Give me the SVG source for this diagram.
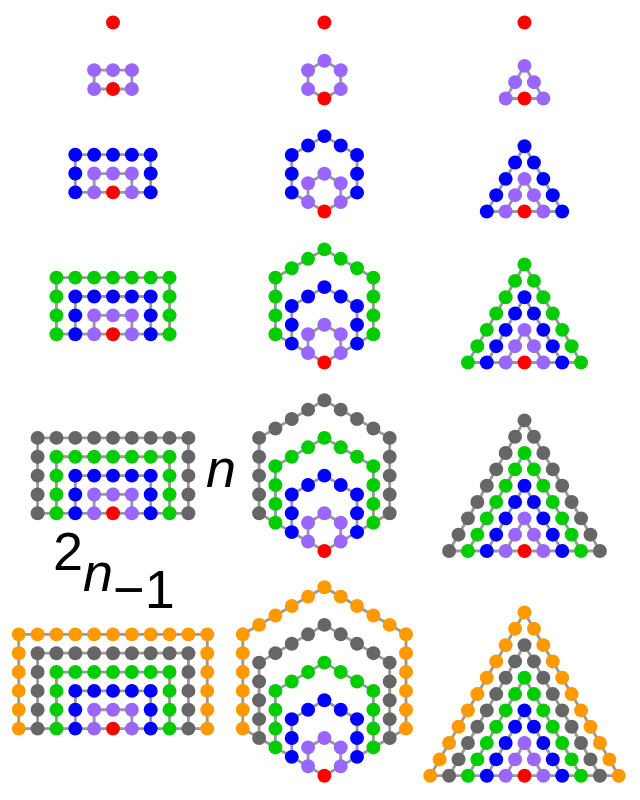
<svg xmlns="http://www.w3.org/2000/svg" width="640" height="800" viewBox="0 0 640 800">
<style>
.ln{fill:none;stroke:#999999;stroke-width:0.15;stroke-linejoin:round}
.r{fill:#ff0000}.p{fill:#9966ff}.b{fill:#0000ff}.g{fill:#00cc00}.k{fill:#666666}.o{fill:#ff9900}
.t{font-family:"Liberation Sans",Arial,sans-serif;font-size:54px;fill:#000}
</style>
<defs>
<!-- pronic layers -->
<path id="plL2" class="ln" d="M-1 0V-1H1V0M-1 0H1"/>
<path id="plL3" class="ln" d="M-2 0V-2H2V0M-2 0H-1M2 0H1"/>
<path id="plL4" class="ln" d="M-3 0V-3H3V0M-3 0H-2M3 0H2"/>
<path id="plL5" class="ln" d="M-4 0V-4H4V0M-4 0H-3M4 0H3"/>
<path id="plL6" class="ln" d="M-5 0V-5H5V0M-5 0H-4M5 0H4"/>
<g id="pd2" class="p"><circle cx="-1" cy="0" r="0.37"/><circle cx="-1" cy="-1" r="0.37"/><circle cx="0" cy="-1" r="0.37"/><circle cx="1" cy="-1" r="0.37"/><circle cx="1" cy="0" r="0.37"/></g>
<g id="pd3" class="b"><circle cx="-2" cy="0" r="0.37"/><circle cx="-2" cy="-1" r="0.37"/><circle cx="-2" cy="-2" r="0.37"/><circle cx="-1" cy="-2" r="0.37"/><circle cx="0" cy="-2" r="0.37"/><circle cx="1" cy="-2" r="0.37"/><circle cx="2" cy="-2" r="0.37"/><circle cx="2" cy="-1" r="0.37"/><circle cx="2" cy="0" r="0.37"/></g>
<g id="pd4" class="g"><circle cx="-3" cy="0" r="0.37"/><circle cx="-3" cy="-1" r="0.37"/><circle cx="-3" cy="-2" r="0.37"/><circle cx="-3" cy="-3" r="0.37"/><circle cx="-2" cy="-3" r="0.37"/><circle cx="-1" cy="-3" r="0.37"/><circle cx="0" cy="-3" r="0.37"/><circle cx="1" cy="-3" r="0.37"/><circle cx="2" cy="-3" r="0.37"/><circle cx="3" cy="-3" r="0.37"/><circle cx="3" cy="-2" r="0.37"/><circle cx="3" cy="-1" r="0.37"/><circle cx="3" cy="0" r="0.37"/></g>
<g id="pd5" class="k"><circle cx="-4" cy="0" r="0.37"/><circle cx="-4" cy="-1" r="0.37"/><circle cx="-4" cy="-2" r="0.37"/><circle cx="-4" cy="-3" r="0.37"/><circle cx="-4" cy="-4" r="0.37"/><circle cx="-3" cy="-4" r="0.37"/><circle cx="-2" cy="-4" r="0.37"/><circle cx="-1" cy="-4" r="0.37"/><circle cx="0" cy="-4" r="0.37"/><circle cx="1" cy="-4" r="0.37"/><circle cx="2" cy="-4" r="0.37"/><circle cx="3" cy="-4" r="0.37"/><circle cx="4" cy="-4" r="0.37"/><circle cx="4" cy="-3" r="0.37"/><circle cx="4" cy="-2" r="0.37"/><circle cx="4" cy="-1" r="0.37"/><circle cx="4" cy="0" r="0.37"/></g>
<g id="pd6" class="o"><circle cx="-5" cy="0" r="0.37"/><circle cx="-5" cy="-1" r="0.37"/><circle cx="-5" cy="-2" r="0.37"/><circle cx="-5" cy="-3" r="0.37"/><circle cx="-5" cy="-4" r="0.37"/><circle cx="-5" cy="-5" r="0.37"/><circle cx="-4" cy="-5" r="0.37"/><circle cx="-3" cy="-5" r="0.37"/><circle cx="-2" cy="-5" r="0.37"/><circle cx="-1" cy="-5" r="0.37"/><circle cx="0" cy="-5" r="0.37"/><circle cx="1" cy="-5" r="0.37"/><circle cx="2" cy="-5" r="0.37"/><circle cx="3" cy="-5" r="0.37"/><circle cx="4" cy="-5" r="0.37"/><circle cx="5" cy="-5" r="0.37"/><circle cx="5" cy="-4" r="0.37"/><circle cx="5" cy="-3" r="0.37"/><circle cx="5" cy="-2" r="0.37"/><circle cx="5" cy="-1" r="0.37"/><circle cx="5" cy="0" r="0.37"/></g>
<!-- hexagonal layers -->
<path id="hlL2" class="ln" d="M-0.866 -0.5V-1.5L0 -2L0.866 -1.5V-0.5M-0.866 -0.5L0 0L0.866 -0.5"/>
<path id="hlL3" class="ln" d="M-1.732 -1V-3L0 -4L1.732 -3V-1M-1.732 -1L-0.866 -0.5M1.732 -1L0.866 -0.5"/>
<path id="hlL4" class="ln" d="M-2.598 -1.5V-4.5L0 -6L2.598 -4.5V-1.5M-2.598 -1.5L-1.732 -1M2.598 -1.5L1.732 -1"/>
<path id="hlL5" class="ln" d="M-3.464 -2V-6L0 -8L3.464 -6V-2M-3.464 -2L-2.598 -1.5M3.464 -2L2.598 -1.5"/>
<path id="hlL6" class="ln" d="M-4.33 -2.5V-7.5L0 -10L4.33 -7.5V-2.5M-4.33 -2.5L-3.464 -2M4.33 -2.5L3.464 -2"/>
<g id="hd2" class="p"><circle cx="-0.866" cy="-0.5" r="0.37"/><circle cx="-0.866" cy="-1.5" r="0.37"/><circle cx="0" cy="-2" r="0.37"/><circle cx="0.866" cy="-1.5" r="0.37"/><circle cx="0.866" cy="-0.5" r="0.37"/></g>
<g id="hd3" class="b"><circle cx="-1.732" cy="-1" r="0.37"/><circle cx="-1.732" cy="-2" r="0.37"/><circle cx="-1.732" cy="-3" r="0.37"/><circle cx="-0.866" cy="-3.5" r="0.37"/><circle cx="0" cy="-4" r="0.37"/><circle cx="0.866" cy="-3.5" r="0.37"/><circle cx="1.732" cy="-3" r="0.37"/><circle cx="1.732" cy="-2" r="0.37"/><circle cx="1.732" cy="-1" r="0.37"/></g>
<g id="hd4" class="g"><circle cx="-2.598" cy="-1.5" r="0.37"/><circle cx="-2.598" cy="-2.5" r="0.37"/><circle cx="-2.598" cy="-3.5" r="0.37"/><circle cx="-2.598" cy="-4.5" r="0.37"/><circle cx="-1.732" cy="-5" r="0.37"/><circle cx="-0.866" cy="-5.5" r="0.37"/><circle cx="0" cy="-6" r="0.37"/><circle cx="0.866" cy="-5.5" r="0.37"/><circle cx="1.732" cy="-5" r="0.37"/><circle cx="2.598" cy="-4.5" r="0.37"/><circle cx="2.598" cy="-3.5" r="0.37"/><circle cx="2.598" cy="-2.5" r="0.37"/><circle cx="2.598" cy="-1.5" r="0.37"/></g>
<g id="hd5" class="k"><circle cx="-3.464" cy="-2" r="0.37"/><circle cx="-3.464" cy="-3" r="0.37"/><circle cx="-3.464" cy="-4" r="0.37"/><circle cx="-3.464" cy="-5" r="0.37"/><circle cx="-3.464" cy="-6" r="0.37"/><circle cx="-2.598" cy="-6.5" r="0.37"/><circle cx="-1.732" cy="-7" r="0.37"/><circle cx="-0.866" cy="-7.5" r="0.37"/><circle cx="0" cy="-8" r="0.37"/><circle cx="0.866" cy="-7.5" r="0.37"/><circle cx="1.732" cy="-7" r="0.37"/><circle cx="2.598" cy="-6.5" r="0.37"/><circle cx="3.464" cy="-6" r="0.37"/><circle cx="3.464" cy="-5" r="0.37"/><circle cx="3.464" cy="-4" r="0.37"/><circle cx="3.464" cy="-3" r="0.37"/><circle cx="3.464" cy="-2" r="0.37"/></g>
<g id="hd6" class="o"><circle cx="-4.33" cy="-2.5" r="0.37"/><circle cx="-4.33" cy="-3.5" r="0.37"/><circle cx="-4.33" cy="-4.5" r="0.37"/><circle cx="-4.33" cy="-5.5" r="0.37"/><circle cx="-4.33" cy="-6.5" r="0.37"/><circle cx="-4.33" cy="-7.5" r="0.37"/><circle cx="-3.464" cy="-8" r="0.37"/><circle cx="-2.598" cy="-8.5" r="0.37"/><circle cx="-1.732" cy="-9" r="0.37"/><circle cx="-0.866" cy="-9.5" r="0.37"/><circle cx="0" cy="-10" r="0.37"/><circle cx="0.866" cy="-9.5" r="0.37"/><circle cx="1.732" cy="-9" r="0.37"/><circle cx="2.598" cy="-8.5" r="0.37"/><circle cx="3.464" cy="-8" r="0.37"/><circle cx="4.33" cy="-7.5" r="0.37"/><circle cx="4.33" cy="-6.5" r="0.37"/><circle cx="4.33" cy="-5.5" r="0.37"/><circle cx="4.33" cy="-4.5" r="0.37"/><circle cx="4.33" cy="-3.5" r="0.37"/><circle cx="4.33" cy="-2.5" r="0.37"/></g>
<!-- triangular layers -->
<path id="tlL2" class="ln" d="M-1 0L0 -1.732L1 0M-1 0H1"/>
<path id="tlL3" class="ln" d="M-2 0L0 -3.464L2 0M-2 0H-1M2 0H1"/>
<path id="tlL4" class="ln" d="M-3 0L0 -5.196L3 0M-3 0H-2M3 0H2"/>
<path id="tlL5" class="ln" d="M-4 0L0 -6.928L4 0M-4 0H-3M4 0H3"/>
<path id="tlL6" class="ln" d="M-5 0L0 -8.66L5 0M-5 0H-4M5 0H4"/>
<g id="td2" class="p"><circle cx="-1" cy="0" r="0.37"/><circle cx="-0.5" cy="-0.866" r="0.37"/><circle cx="0" cy="-1.732" r="0.37"/><circle cx="0.5" cy="-0.866" r="0.37"/><circle cx="1" cy="0" r="0.37"/></g>
<g id="td3" class="b"><circle cx="-2" cy="0" r="0.37"/><circle cx="-1.5" cy="-0.866" r="0.37"/><circle cx="-1" cy="-1.732" r="0.37"/><circle cx="-0.5" cy="-2.598" r="0.37"/><circle cx="0" cy="-3.464" r="0.37"/><circle cx="0.5" cy="-2.598" r="0.37"/><circle cx="1" cy="-1.732" r="0.37"/><circle cx="1.5" cy="-0.866" r="0.37"/><circle cx="2" cy="0" r="0.37"/></g>
<g id="td4" class="g"><circle cx="-3" cy="0" r="0.37"/><circle cx="-2.5" cy="-0.866" r="0.37"/><circle cx="-2" cy="-1.732" r="0.37"/><circle cx="-1.5" cy="-2.598" r="0.37"/><circle cx="-1" cy="-3.464" r="0.37"/><circle cx="-0.5" cy="-4.33" r="0.37"/><circle cx="0" cy="-5.196" r="0.37"/><circle cx="0.5" cy="-4.33" r="0.37"/><circle cx="1" cy="-3.464" r="0.37"/><circle cx="1.5" cy="-2.598" r="0.37"/><circle cx="2" cy="-1.732" r="0.37"/><circle cx="2.5" cy="-0.866" r="0.37"/><circle cx="3" cy="0" r="0.37"/></g>
<g id="td5" class="k"><circle cx="-4" cy="0" r="0.37"/><circle cx="-3.5" cy="-0.866" r="0.37"/><circle cx="-3" cy="-1.732" r="0.37"/><circle cx="-2.5" cy="-2.598" r="0.37"/><circle cx="-2" cy="-3.464" r="0.37"/><circle cx="-1.5" cy="-4.33" r="0.37"/><circle cx="-1" cy="-5.196" r="0.37"/><circle cx="-0.5" cy="-6.062" r="0.37"/><circle cx="0" cy="-6.928" r="0.37"/><circle cx="0.5" cy="-6.062" r="0.37"/><circle cx="1" cy="-5.196" r="0.37"/><circle cx="1.5" cy="-4.33" r="0.37"/><circle cx="2" cy="-3.464" r="0.37"/><circle cx="2.5" cy="-2.598" r="0.37"/><circle cx="3" cy="-1.732" r="0.37"/><circle cx="3.5" cy="-0.866" r="0.37"/><circle cx="4" cy="0" r="0.37"/></g>
<g id="td6" class="o"><circle cx="-5" cy="0" r="0.37"/><circle cx="-4.5" cy="-0.866" r="0.37"/><circle cx="-4" cy="-1.732" r="0.37"/><circle cx="-3.5" cy="-2.598" r="0.37"/><circle cx="-3" cy="-3.464" r="0.37"/><circle cx="-2.5" cy="-4.33" r="0.37"/><circle cx="-2" cy="-5.196" r="0.37"/><circle cx="-1.5" cy="-6.062" r="0.37"/><circle cx="-1" cy="-6.928" r="0.37"/><circle cx="-0.5" cy="-7.794" r="0.37"/><circle cx="0" cy="-8.66" r="0.37"/><circle cx="0.5" cy="-7.794" r="0.37"/><circle cx="1" cy="-6.928" r="0.37"/><circle cx="1.5" cy="-6.062" r="0.37"/><circle cx="2" cy="-5.196" r="0.37"/><circle cx="2.5" cy="-4.33" r="0.37"/><circle cx="3" cy="-3.464" r="0.37"/><circle cx="3.5" cy="-2.598" r="0.37"/><circle cx="4" cy="-1.732" r="0.37"/><circle cx="4.5" cy="-0.866" r="0.37"/><circle cx="5" cy="0" r="0.37"/></g>
<circle id="red" class="r" cx="0" cy="0" r="0.37"/>
</defs>

<g id="connectors">
  <g transform="translate(113 89) scale(18.85)"><use href="#plL2"/></g>
  <g transform="translate(113 192.4) scale(18.85)"><use href="#plL3"/><use href="#plL2"/></g>
  <g transform="translate(113 334.2) scale(18.85)"><use href="#plL4"/><use href="#plL3"/><use href="#plL2"/></g>
  <g transform="translate(113 513.3) scale(18.85)"><use href="#plL5"/><use href="#plL4"/><use href="#plL3"/><use href="#plL2"/></g>
  <g transform="translate(113 728.6) scale(18.85)"><use href="#plL6"/><use href="#plL5"/><use href="#plL4"/><use href="#plL3"/><use href="#plL2"/></g>

  <g transform="translate(324.4 98.5) scale(18.85)"><use href="#hlL2"/></g>
  <g transform="translate(324.4 211.5) scale(18.85)"><use href="#hlL3"/><use href="#hlL2"/></g>
  <g transform="translate(324.4 362.5) scale(18.85)"><use href="#hlL4"/><use href="#hlL3"/><use href="#hlL2"/></g>
  <g transform="translate(324.4 551) scale(18.85)"><use href="#hlL5"/><use href="#hlL4"/><use href="#hlL3"/><use href="#hlL2"/></g>
  <g transform="translate(324.4 775.7) scale(18.85)"><use href="#hlL6"/><use href="#hlL5"/><use href="#hlL4"/><use href="#hlL3"/><use href="#hlL2"/></g>

  <g transform="translate(524.5 98.5) scale(18.85)"><use href="#tlL2"/></g>
  <g transform="translate(524.5 211.5) scale(18.85)"><use href="#tlL3"/><use href="#tlL2"/></g>
  <g transform="translate(524.5 362.5) scale(18.85)"><use href="#tlL4"/><use href="#tlL3"/><use href="#tlL2"/></g>
  <g transform="translate(524.5 551) scale(18.85)"><use href="#tlL5"/><use href="#tlL4"/><use href="#tlL3"/><use href="#tlL2"/></g>
  <g transform="translate(524.5 775.7) scale(18.85)"><use href="#tlL6"/><use href="#tlL5"/><use href="#tlL4"/><use href="#tlL3"/><use href="#tlL2"/></g>
</g>

<g id="nodes">
  <g id="pronic-1" transform="translate(113 22.5) scale(18.85)"><use href="#red"/></g>
  <g id="pronic-2" transform="translate(113 89) scale(18.85)"><use href="#pd2"/><use href="#red"/></g>
  <g id="pronic-3" transform="translate(113 192.4) scale(18.85)"><use href="#pd3"/><use href="#pd2"/><use href="#red"/></g>
  <g id="pronic-4" transform="translate(113 334.2) scale(18.85)"><use href="#pd4"/><use href="#pd3"/><use href="#pd2"/><use href="#red"/></g>
  <g id="pronic-5" transform="translate(113 513.3) scale(18.85)"><use href="#pd5"/><use href="#pd4"/><use href="#pd3"/><use href="#pd2"/><use href="#red"/></g>
  <g id="pronic-6" transform="translate(113 728.6) scale(18.85)"><use href="#pd6"/><use href="#pd5"/><use href="#pd4"/><use href="#pd3"/><use href="#pd2"/><use href="#red"/></g>

  <g id="hex-1" transform="translate(324.4 22.5) scale(18.85)"><use href="#red"/></g>
  <g id="hex-2" transform="translate(324.4 98.5) scale(18.85)"><use href="#hd2"/><use href="#red"/></g>
  <g id="hex-3" transform="translate(324.4 211.5) scale(18.85)"><use href="#hd3"/><use href="#hd2"/><use href="#red"/></g>
  <g id="hex-4" transform="translate(324.4 362.5) scale(18.85)"><use href="#hd4"/><use href="#hd3"/><use href="#hd2"/><use href="#red"/></g>
  <g id="hex-5" transform="translate(324.4 551) scale(18.85)"><use href="#hd5"/><use href="#hd4"/><use href="#hd3"/><use href="#hd2"/><use href="#red"/></g>
  <g id="hex-6" transform="translate(324.4 775.7) scale(18.85)"><use href="#hd6"/><use href="#hd5"/><use href="#hd4"/><use href="#hd3"/><use href="#hd2"/><use href="#red"/></g>

  <g id="tri-1" transform="translate(524.5 22.5) scale(18.85)"><use href="#red"/></g>
  <g id="tri-2" transform="translate(524.5 98.5) scale(18.85)"><use href="#td2"/><use href="#red"/></g>
  <g id="tri-3" transform="translate(524.5 211.5) scale(18.85)"><use href="#td3"/><use href="#td2"/><use href="#red"/></g>
  <g id="tri-4" transform="translate(524.5 362.5) scale(18.85)"><use href="#td4"/><use href="#td3"/><use href="#td2"/><use href="#red"/></g>
  <g id="tri-5" transform="translate(524.5 551) scale(18.85)"><use href="#td5"/><use href="#td4"/><use href="#td3"/><use href="#td2"/><use href="#red"/></g>
  <g id="tri-6" transform="translate(524.5 775.7) scale(18.85)"><use href="#td6"/><use href="#td5"/><use href="#td4"/><use href="#td3"/><use href="#td2"/><use href="#red"/></g>
</g>

<g id="labels">
  <text class="t" x="206" y="487" font-style="italic">n</text>
  <text class="t" x="53" y="570">2<tspan font-style="italic" dy="21">n</tspan><tspan dy="17">−1</tspan></text>
</g>
</svg>
